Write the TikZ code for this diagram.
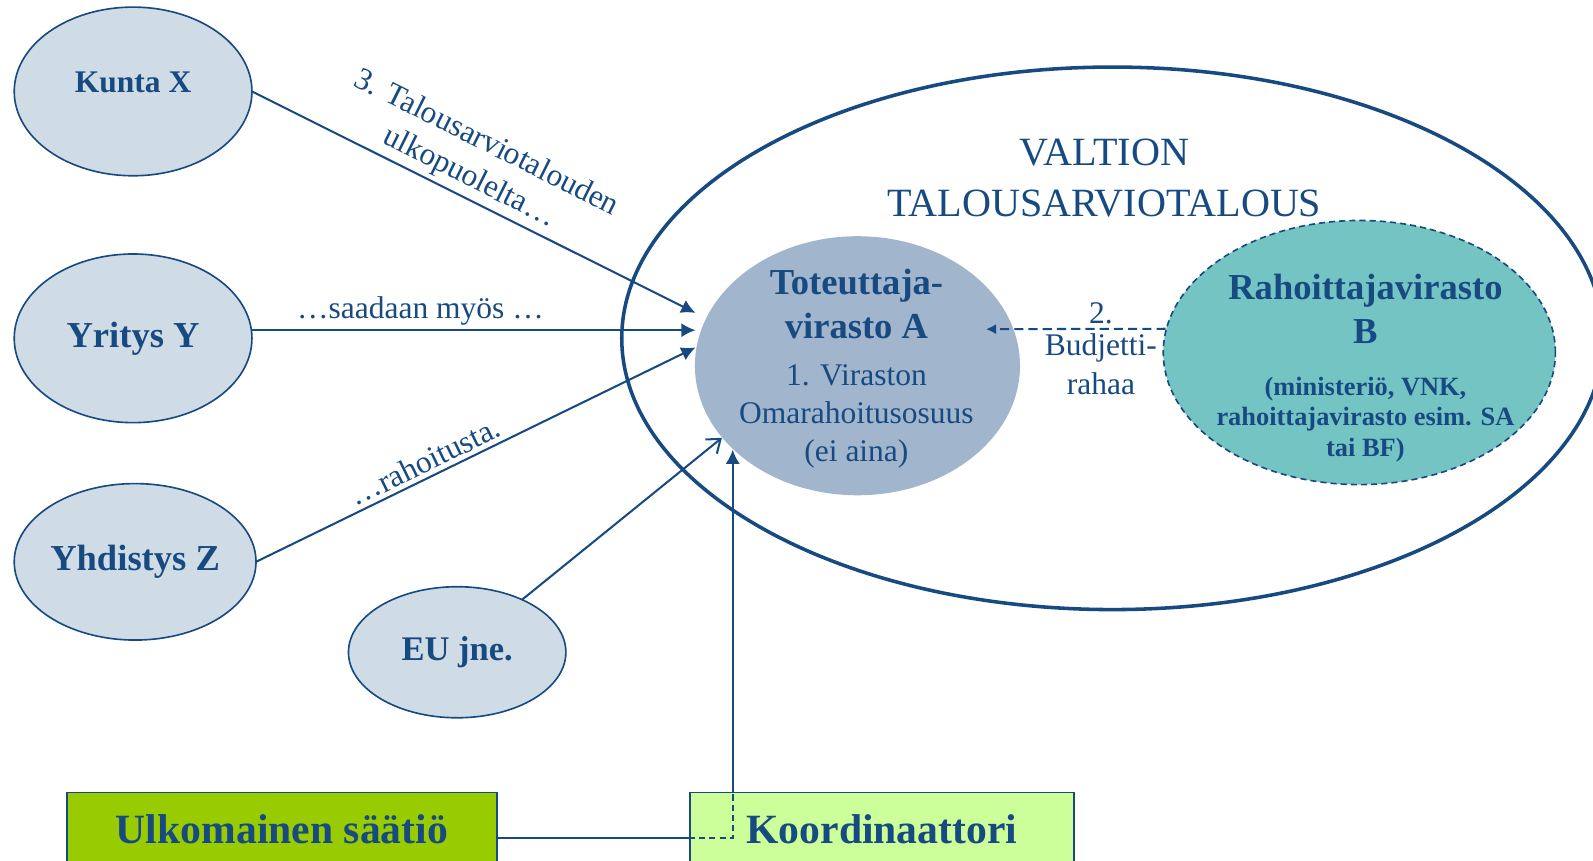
\documentclass[tikz,border=0pt]{standalone}
\usepackage{fontspec}
\setmainfont{Liberation Serif}
\usetikzlibrary{shapes.geometric,arrows.meta}
\definecolor{navy}{HTML}{184A82}
\definecolor{paleblue}{HTML}{CFDBE5}
\definecolor{greyblue}{HTML}{A1B5CC}
\definecolor{tealfill}{HTML}{75C4C4}
\definecolor{leaf}{HTML}{99CC00}
\definecolor{lime}{HTML}{CCFF99}
\begin{document}
\begin{tikzpicture}[x=0.5pt, y=-0.5pt,
    src/.style={ellipse, draw=navy, fill=paleblue, line width=0.8pt, inner sep=0pt, outer sep=0pt, text=navy, font=\fontsize{18}{21}\selectfont\bfseries},
    flow/.style={navy, line width=1pt, -{Latex[length=7pt,width=7pt]}},
    link/.style={navy, line width=1pt},
    lbl/.style={text=navy, font=\fontsize{15.5}{19}\selectfont, inner sep=2pt},
    box/.style={draw=navy, line width=0.8pt, minimum height=36pt, text=navy, font=\fontsize{20.5}{24}\selectfont\bfseries}]

    \useasboundingbox (0,0) rectangle (1568,847);
    \clip (0,0) rectangle (1568,847);

    % valtion talousarviotalous
    \node[ellipse, draw=navy, line width=1.75pt, minimum width=483pt, minimum height=267pt, inner sep=0pt] (valtio) at (1095,333) {};
    \node[text=navy, align=center, font=\fontsize{19.75}{25}\selectfont] (title) at (1087,175) {VALTION\\TALOUSARVIOTALOUS};

    \node[ellipse, fill=greyblue, minimum width=160pt, minimum height=127.5pt, inner sep=0pt] (tot) at (844,360) {};
    \node[text=navy, align=center, font=\fontsize{18}{21.5}\selectfont\bfseries] (tothead) at (843,299) {Toteuttaja-\\virasto A};
    \node[text=navy, align=center, font=\fontsize{15.5}{18.75}\selectfont] (totbody) at (843,410) {1. Viraston\\Omarahoitusosuus\\(ei aina)};

    \node[ellipse, draw=navy, dash pattern=on 3pt off 2pt, fill=tealfill, line width=0.8pt, minimum width=193pt, minimum height=130pt, inner sep=0pt] (rah) at (1338,347) {};
    \node[text=navy, align=center, font=\fontsize{18}{21.5}\selectfont\bfseries] (rahhead) at (1344,304) {Rahoittajavirasto\\B};
    \node[text=navy, align=center, font=\fontsize{13}{15}\selectfont\bfseries] (rahbody) at (1344,413) {(ministeriö, VNK,\\rahoittajavirasto esim. SA\\tai BF)};

    % rahoittajat
    \node[src, minimum width=117pt, minimum height=83pt, text depth=9pt, font=\fontsize{15.5}{18}\selectfont\bfseries] (kx) at (131,90) {Kunta X};
    \node[src, minimum width=117pt, minimum height=83pt] (yr) at (131,333) {Yritys Y};
    \node[src, minimum width=119pt, minimum height=77pt] (yz) at (133,553) {Yhdistys Z};
    \node[src, minimum width=107pt, minimum height=64.5pt, font=\fontsize{17}{20}\selectfont\bfseries] (eu) at (450,642) {EU jne.};

    \node[box, fill=leaf, minimum width=211.5pt] (ulk) at (277.5,816) {Ulkomainen säätiö};
    \node[box, fill=lime, minimum width=189pt] (kor) at (868,816) {Koordinaattori};

    % nuolet
    \draw[flow] (kx.east) -- ([shift={(1,-52)}]tot.west) node[lbl, pos=0.47, sloped, above, align=center] {3. Talousarviotalouden\\ulkopuolelta…};
    \draw[flow] ([shift={(0,-8)}]yr.east) -- ([shift={(1,-35)}]tot.west) node[lbl, pos=0.38, above] {…saadaan myös …};
    \draw[flow] (yz.east) -- ([shift={(1,-18)}]tot.west) node[lbl, pos=0.4, sloped, above] {…rahoitusta.};
    \draw[flow, -{Straight Barb[length=6pt,width=9pt]}] (eu) -- (tot.208);
    \draw[flow, -{Latex[length=5pt,width=5pt]}, dash pattern=on 4.5pt off 2.5pt] (rah.173) -- ([shift={(-34,-36)}]tot.east)
        node[lbl, pos=0.36, above] {2.}
        node[lbl, pos=0.36, below, align=center] {Budjetti-\\rahaa};

    \coordinate (kin) at ([yshift=-4.5pt]kor.west);
    \coordinate (kbend) at ([xshift=21.5pt]kin);
    \draw[link] ([yshift=-4.5pt]ulk.east) -- (kin);
    \draw[link, dash pattern=on 3pt off 2pt] (kin) -- (kbend) -- (kbend |- kor.north);
    \draw[flow] (kbend |- kor.north) -- (kbend |- tot.214);
\end{tikzpicture}
\end{document}
